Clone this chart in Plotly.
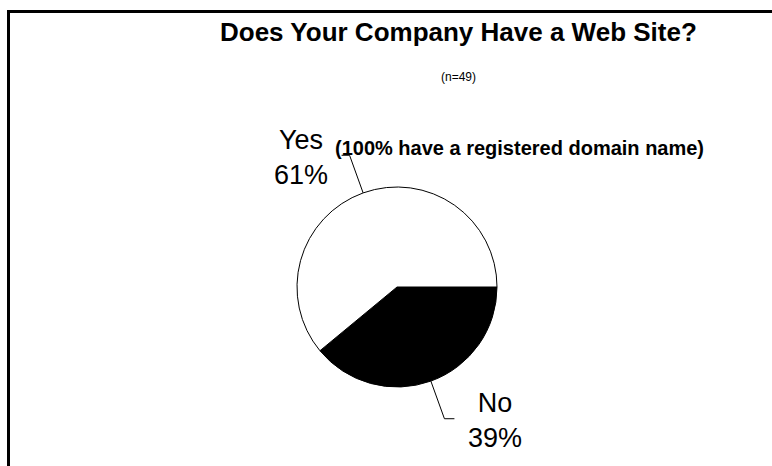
import math
import plotly.graph_objects as go

# Survey result: share of companies with a web site
categories = ["No", "Yes"]
shares = [39, 61]
slice_colors = ["#000000", "#ffffff"]

title_text = "Does Your Company Have a Web Site?"
subtitle_text = "(n=49)"
note_text = "(100% have a registered domain name)"

W, H = 772, 466
FONT = "Liberation Sans, Arial, sans-serif"

# pie placement in pixels
cx, cy, r = 397, 287, 100


def px(x):
    return x / W


def py(y):
    return 1 - y / H


fig = go.Figure()
fig.add_trace(go.Pie(
    labels=categories,
    values=shares,
    sort=False,
    direction="clockwise",
    rotation=90,
    marker=dict(colors=slice_colors, line=dict(color="#000000", width=1)),
    textinfo="none",
    hoverinfo="label+percent",
    showlegend=False,
    domain=dict(x=[px(cx - r), px(cx + r)], y=[py(cy + r), py(cy - r)]),
))

# leader lines and labels, placed from each slice's mid-angle
total = sum(shares)
start = 0.0
elbow = {"Yes": -8, "No": 10}
label_pos = {"Yes": (301, 158), "No": (495, 420)}
shapes = [
    dict(type="line", xref="paper", yref="paper", x0=px(8.5), y0=0, x1=px(8.5), y1=py(11.5),
         line=dict(color="#000000", width=3)),
    dict(type="line", xref="paper", yref="paper", x0=px(7), y0=py(11.5), x1=1, y1=py(11.5),
         line=dict(color="#000000", width=3)),
]
annotations = []
for cat, val in zip(categories, shares):
    span = 360.0 * val / total
    mid = math.radians(start + span / 2)
    start += span
    ux, uy = math.cos(mid), math.sin(mid)
    x0, y0 = cx + r * ux, cy + r * uy
    x1, y1 = cx + (r + 40) * ux, cy + (r + 40) * uy
    dx = elbow[cat]
    shapes.append(dict(type="path", xref="paper", yref="paper",
                       path=f"M {px(x0)},{py(y0)} L {px(x1)},{py(y1)} L {px(x1 + dx)},{py(y1)}",
                       line=dict(color="#000000", width=1)))
    lx, ly = label_pos[cat]
    annotations.append(dict(text=f"{cat}<br>{val}%", x=px(lx), y=py(ly), xref="paper", yref="paper",
                            xanchor="center", yanchor="middle", showarrow=False, align="center",
                            font=dict(family=FONT, size=27, color="#000000")))

annotations += [
    dict(text=f"<b>{title_text}</b>", x=px(458), y=py(32), xref="paper", yref="paper",
         xanchor="center", yanchor="middle", showarrow=False,
         font=dict(family=FONT, size=26, color="#000000")),
    dict(text=subtitle_text, x=px(458), y=py(77), xref="paper", yref="paper",
         xanchor="center", yanchor="middle", showarrow=False,
         font=dict(family=FONT, size=12, color="#000000")),
    dict(text=f"<b>{note_text}</b>", x=px(333), y=py(148), xref="paper", yref="paper",
         xanchor="left", yanchor="middle", showarrow=False,
         font=dict(family=FONT, size=20, color="#000000")),
]

fig.update_layout(
    width=W, height=H,
    margin=dict(l=0, r=0, t=0, b=0),
    paper_bgcolor="#ffffff",
    plot_bgcolor="#ffffff",
    shapes=shapes,
    annotations=annotations,
)

fig.write_html("out.html", config={"displayModeBar": False})
